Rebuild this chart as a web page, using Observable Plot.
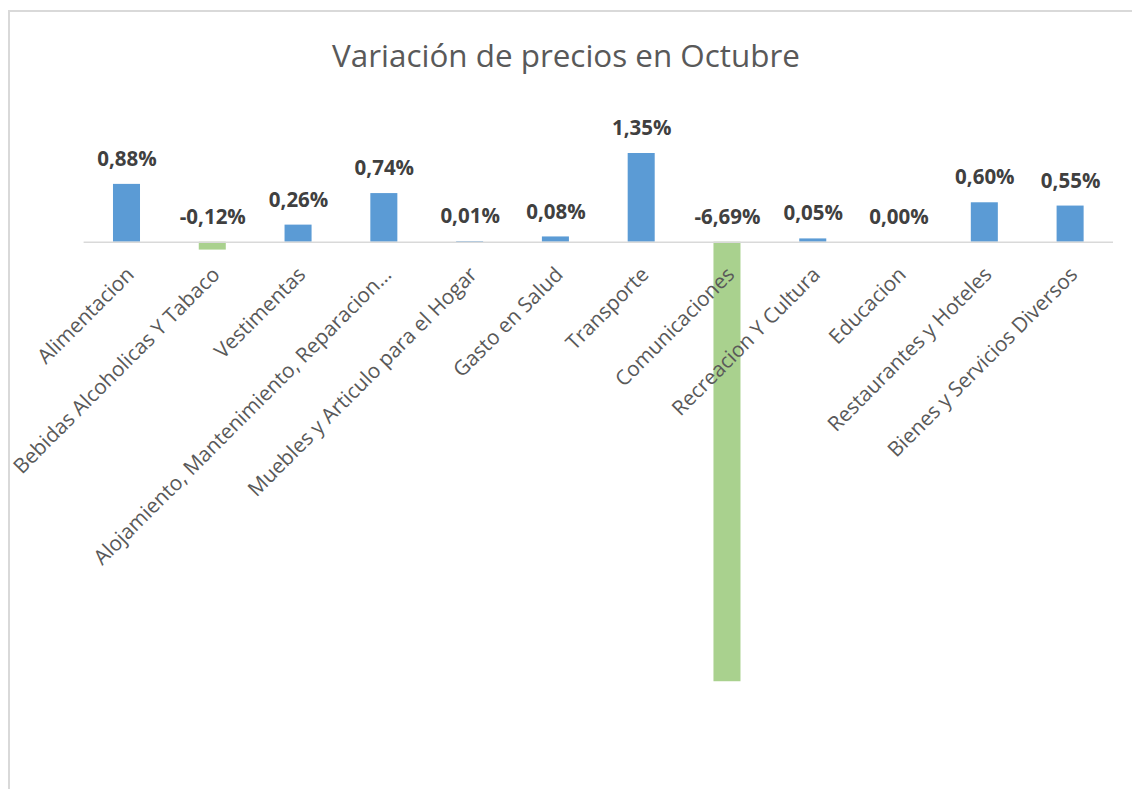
<!DOCTYPE html>
<html>
<head>
<meta charset="utf-8">
<script src="https://cdn.jsdelivr.net/npm/d3@7"></script>
<script src="https://cdn.jsdelivr.net/npm/@observablehq/plot@0.6"></script>
<style>
  html, body { margin: 0; padding: 0; background: #fff; overflow: hidden; }
  #frame { position: absolute; left: 8px; top: 10px; width: 1140px; height: 800px;
           border: 2px solid #d9d9d9; box-sizing: border-box; }
  #title { position: absolute; left: 0; width: 1132px; top: 30px; text-align: center;
           font-family: "Open Sans", sans-serif; font-size: 31.4px; color: #595959; line-height: 50px; }
  #chart { position: absolute; left: 0; top: 90px; }
</style>
</head>
<body>
<div id="frame"></div>
<div id="title">Variación de precios en Octubre</div>
<div id="chart"></div>
<script>
const categories = [
  "Alimentacion",
  "Bebidas Alcoholicas Y Tabaco",
  "Vestimentas",
  "Alojamiento, Mantenimiento, Reparacion…",
  "Muebles y Articulo para el Hogar",
  "Gasto en Salud",
  "Transporte",
  "Comunicaciones",
  "Recreacion Y Cultura",
  "Educacion",
  "Restaurantes y Hoteles",
  "Bienes y Servicios Diversos"
];
const values = [0.88, -0.12, 0.26, 0.74, 0.01, 0.08, 1.35, -6.69, 0.05, 0.00, 0.60, 0.55];

const data = categories.map((c, i) => ({cat: c, val: values[i]}));
const fmt = v => v.toFixed(2).replace(".", ",") + "%";

const pxPerUnit = 65.7;
const zeroY = 151.7;

const plot = Plot.plot({
  width: 1132,
  height: 699,
  marginLeft: 83.6,
  marginRight: 19,
  marginTop: 0,
  marginBottom: 0,
  style: {fontFamily: "'Open Sans', sans-serif", background: "transparent", overflow: "visible"},
  x: {domain: categories, paddingInner: 0.685, paddingOuter: 0.3425, round: false, axis: null},
  y: {domain: [-7, 2], range: [zeroY + 7 * pxPerUnit, zeroY - 2 * pxPerUnit], axis: null},
  marks: [
    Plot.barY(data, {x: "cat", y: "val", fill: d => d.val < 0 ? "#A9D18E" : "#5B9BD5"}),
    Plot.ruleY([0], {stroke: "#d9d9d9", strokeWidth: 1.5}),
    Plot.text(data, {x: "cat", y: d => Math.max(0, d.val), text: d => fmt(d.val),
      dy: -25, fontSize: 20.5, fontWeight: "bold", fill: "#404040"}),
    Plot.text(data, {x: "cat", y: () => 0, text: "cat", rotate: -45, textAnchor: "end",
      lineAnchor: "middle", dx: 3.5, dy: 29, fontSize: 20.7, fill: "#595959"})
  ]
});
document.getElementById("chart").appendChild(plot);
</script>
</body>
</html>
